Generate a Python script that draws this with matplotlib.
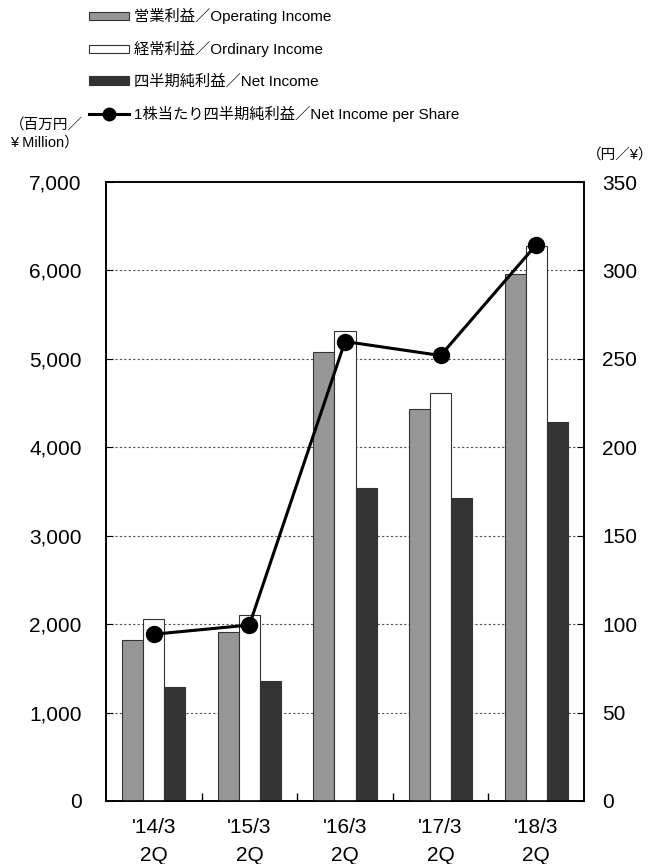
import matplotlib
matplotlib.use("Agg")
import matplotlib.pyplot as plt
import numpy as np
from matplotlib.patches import Patch
from matplotlib.lines import Line2D

plt.rcParams['font.family'] = ['Liberation Sans', 'Noto Sans CJK JP', 'DejaVu Sans']

categories = ["'14/3\n2Q", "'15/3\n2Q", "'16/3\n2Q", "'17/3\n2Q", "'18/3\n2Q"]
operating_income = [1821, 1908, 5083, 4431, 5961]
ordinary_income = [2055, 2100, 5320, 4612, 6278]
net_income = [1286, 1354, 3537, 3431, 4287]
eps = [94.3, 99.5, 259.8, 251.9, 314.5]

labels = ["営業利益／Operating Income", "経常利益／Ordinary Income",
          "四半期純利益／Net Income", "1株当たり四半期純利益／Net Income per Share"]

fig = plt.figure(figsize=(6.6, 8.64), dpi=100)
ax = fig.add_axes([106/660, 1-801/864, 478/660, 619/864])
ax2 = ax.twinx()

x = np.arange(len(categories))
w = 0.22
ec = '#333333'
ax.bar(x - w, operating_income, w, color='#969696', edgecolor=ec, linewidth=0.8, zorder=3)
ax.bar(x, ordinary_income, w, color='white', edgecolor=ec, linewidth=0.8, zorder=3)
ax.bar(x + w, net_income, w, color='#333333', edgecolor=ec, linewidth=0.8, zorder=3)

ax2.plot(x, eps, color='black', linewidth=2.2, marker='o', markersize=11.5, zorder=5)

ax.set_xlim(-0.5, len(categories) - 0.5)
ax.set_ylim(0, 7000)
ax2.set_ylim(0, 350)
ax.set_yticks(np.arange(0, 7001, 1000))
ax.set_yticklabels([f"{v:,}" for v in range(0, 7001, 1000)])
ax2.set_yticks(np.arange(0, 351, 50))

for v in range(1000, 7000, 1000):
    ax.axhline(v, color='#555555', linestyle=(0, (2, 2)), linewidth=0.8, zorder=1)

ax.set_xticks(x)
ax.set_xticklabels(categories, linespacing=1.6)
ax.set_xticks(np.arange(0.5, len(categories) - 0.5, 1), minor=True)
ax.tick_params(axis='x', which='major', length=0, pad=12, labelsize=15)
ax.tick_params(axis='x', which='minor', direction='in', length=6, width=1)
ax.tick_params(axis='y', direction='in', length=5, labelsize=15, pad=17.5)
ax2.tick_params(axis='y', direction='in', length=5, labelsize=15, pad=13)
ax2.tick_params(axis='x', length=0)
for a in (ax, ax2):
    for s in a.spines.values():
        s.set_linewidth(1.2)
        s.set_color('black')

handles = [Patch(facecolor='#969696', edgecolor=ec, linewidth=0.8),
           Patch(facecolor='white', edgecolor=ec, linewidth=0.8),
           Patch(facecolor='#333333', edgecolor=ec, linewidth=0.8),
           Line2D([], [], color='black', linewidth=2.2, marker='o', markersize=9)]
fig.legend(handles, labels, loc='upper left', bbox_to_anchor=(83/660, 1 - 2/864),
           frameon=False, fontsize=11, handlelength=2.6, handleheight=0.5,
           handletextpad=0.35, labelspacing=1.1, borderaxespad=0)

fig.text(10/660, 1 - 125/864, "（百万円／", fontsize=10.5, va='center', ha='left')
fig.text(10/660, 1 - 143/864, "¥ Million）", fontsize=10.5, va='center', ha='left')
fig.text(653/660, 1 - 155/864, "（円／¥）", fontsize=10.5, va='center', ha='right')

fig.savefig("out.png", dpi=100)
